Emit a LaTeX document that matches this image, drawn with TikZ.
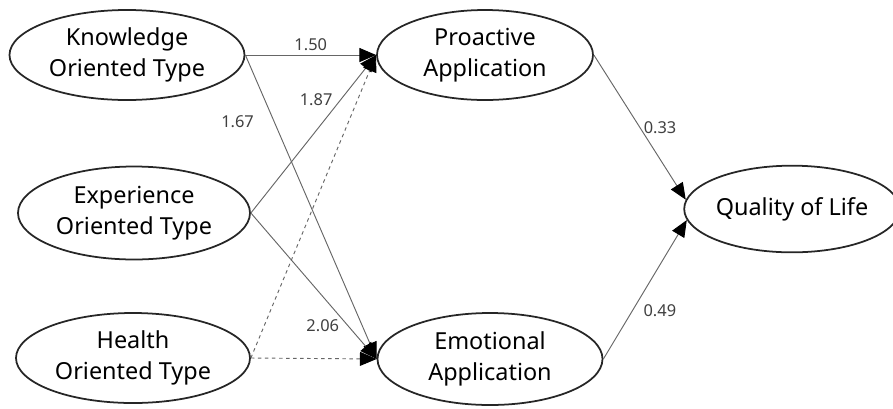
\documentclass[tikz,border=0pt]{standalone}
\usepackage{fontspec}
\setmainfont{Noto Sans}
\usetikzlibrary{shapes.geometric,arrows.meta}

\begin{document}
\begin{tikzpicture}[x=0.03cm, y=-0.03cm,
    latent/.style={ellipse, draw=black!85, line width=1.5pt, align=center,
        inner sep=0pt, font=\fontsize{20}{26}\selectfont},
    path/.style={draw=black!60, line width=0.8pt,
        -{Triangle[length=0.5cm, width=0.42cm, color=black]}},
    weak/.style={path, dashed},
    coef/.style={font=\fontsize{14}{16}\selectfont, text=black!75, inner sep=1pt}]

    \useasboundingbox (0,0) rectangle (893,408);

    % -- Tipi (sinistra) --
    \node[latent, minimum width=7.05cm, minimum height=2.7cm] (know) at (127,55) {Knowledge\\Oriented Type};
    \node[latent, minimum width=6.96cm, minimum height=2.79cm] (expe) at (134,213) {Experience\\Oriented Type};
    \node[latent, minimum width=7.02cm, minimum height=2.7cm] (heal) at (133,358) {Health\\Oriented Type};

    % -- Applicazione (centro) --
    \node[latent, minimum width=6.48cm, minimum height=2.7cm] (proa) at (485,55) {Proactive\\Application};
    \node[latent, minimum width=6.75cm, minimum height=2.76cm] (emot) at (490,359) {Emotional\\Application};

    % -- Qualita' della vita (destra) --
    \node[latent, minimum width=5.94cm, minimum height=2.6cm] (qual) at (792,209) {Quality of Life};

    % frecce dai tipi
    \draw[path] (know.east) -- node[coef, above=2pt] {1.50} (proa.west);
    \draw[path] (know.east) -- node[coef, pos=0.22, anchor=east, xshift=-16pt] {1.67} (emot.west);
    \draw[path] (expe.east) -- node[coef, pos=0.72, anchor=east, xshift=-6pt] {1.87} (proa.west);
    \draw[path] (expe.east) -- node[coef, pos=0.77, anchor=east, xshift=-6pt] {2.06} (emot.west);
    \draw[weak] (heal.east) -- (proa.west);
    \draw[weak] (heal.east) -- (emot.west);

    % frecce verso la qualita' della vita
    \draw[path] (proa.east) -- node[coef, pos=0.5, anchor=west, xshift=2pt] {0.33} (qual.175);
    \draw[path] (emot.east) -- node[coef, pos=0.35, anchor=west, xshift=8pt] {0.49} (qual.186);
\end{tikzpicture}
\end{document}
